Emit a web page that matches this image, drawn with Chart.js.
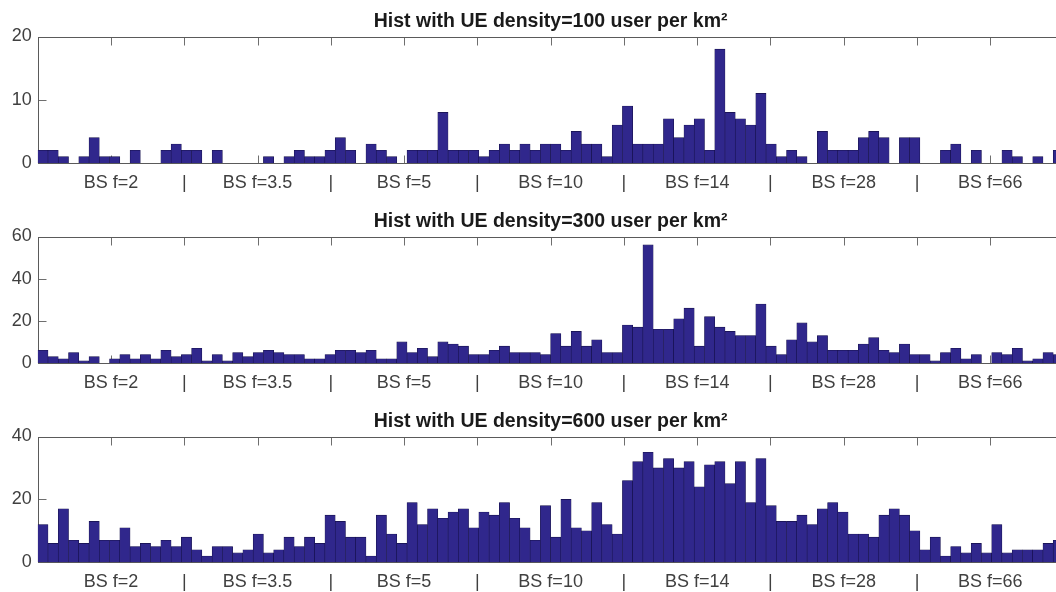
<!DOCTYPE html>
<html>
<head>
<meta charset="utf-8">
<script src="https://cdn.jsdelivr.net/npm/chart.js@4.4.1/dist/chart.umd.min.js"></script>
<style>
  html, body { margin: 0; padding: 0; background: #fff; width: 1056px; height: 592px; overflow: hidden; }
  .panel { position: absolute; left: 0; width: 1080px; height: 200px; }
</style>
</head>
<body>
<div class="panel" style="top:0"><canvas id="h100" width="1080" height="200"></canvas></div>
<div class="panel" style="top:200px"><canvas id="h300" width="1080" height="200"></canvas></div>
<div class="panel" style="top:400px"><canvas id="h600" width="1080" height="200"></canvas></div>
<script>
// datos: 100 bins por histograma
const densities = [100, 300, 600];
const xTickLabels = ['', 'BS f=2', '|', 'BS f=3.5', '|', 'BS f=5', '|', 'BS f=10', '|', 'BS f=14', '|', 'BS f=28', '|', 'BS f=66', ''];
const yMax  = [20, 60, 40];
const yStep = [10, 20, 20];

const counts100 = [
  2, 2, 1, 0, 1, 4, 1, 1, 0, 2,
  0, 0, 2, 3, 2, 2, 0, 2, 0, 0,
  0, 0, 1, 0, 1, 2, 1, 1, 2, 4,
  2, 0, 3, 2, 1, 0, 2, 2, 2, 8,
  2, 2, 2, 1, 2, 3, 2, 3, 2, 3,
  3, 2, 5, 3, 3, 1, 6, 9, 3, 3,
  3, 7, 4, 6, 7, 2, 18, 8, 7, 6,
  11, 3, 1, 2, 1, 0, 5, 2, 2, 2,
  4, 5, 4, 0, 4, 4, 0, 0, 2, 3,
  0, 2, 0, 0, 2, 1, 0, 1, 0, 2
];
const counts300 = [
  6, 3, 2, 5, 1, 3, 0, 2, 4, 2,
  4, 2, 6, 3, 4, 7, 1, 4, 1, 5,
  3, 5, 6, 5, 4, 4, 2, 2, 4, 6,
  6, 5, 6, 2, 2, 10, 5, 7, 3, 10,
  9, 8, 4, 4, 6, 8, 5, 5, 5, 4,
  14, 8, 15, 8, 11, 5, 5, 18, 17, 56,
  16, 16, 21, 26, 8, 22, 17, 15, 13, 13,
  28, 8, 4, 11, 19, 10, 13, 6, 6, 6,
  9, 12, 6, 5, 9, 4, 4, 1, 5, 7,
  2, 4, 0, 5, 4, 7, 1, 2, 5, 4
];
const counts600 = [
  12, 6, 17, 7, 6, 13, 7, 7, 11, 5,
  6, 5, 7, 5, 8, 4, 2, 5, 5, 3,
  4, 9, 3, 4, 8, 5, 8, 6, 15, 13,
  8, 8, 2, 15, 9, 6, 19, 12, 17, 14,
  16, 17, 11, 16, 15, 19, 14, 11, 7, 18,
  8, 20, 11, 10, 19, 12, 9, 26, 32, 35,
  30, 33, 30, 32, 24, 31, 32, 25, 32, 19,
  33, 18, 13, 13, 15, 12, 17, 19, 16, 9,
  9, 8, 15, 17, 15, 10, 4, 8, 2, 5,
  3, 6, 3, 12, 3, 4, 4, 4, 6, 7
];
const allCounts = [counts100, counts300, counts600];

(function () {
  const FONT = '"Liberation Sans", Arial, Helvetica, sans-serif';
  const TICK = 8;
  Chart.defaults.font.family = FONT;

  // caja estilo MATLAB con ticks hacia dentro
  const boxTicks = {
    id: 'boxTicks',
    beforeDatasetsDraw(chart) {
      const { ctx, chartArea: a, scales: { x, y } } = chart;
      const L = Math.round(a.left) + 0.5, R = Math.round(a.right) + 0.5;
      const T = Math.round(a.top) + 0.5, B = Math.round(a.bottom) + 0.5;
      ctx.save();
      ctx.lineWidth = 1;
      ctx.strokeStyle = '#6e6e6e';
      ctx.beginPath();
      x.ticks.slice(1, -1).forEach(t => {
        const px = Math.round(x.getPixelForValue(t.value)) + 0.5;
        ctx.moveTo(px, T); ctx.lineTo(px, T + TICK);
        ctx.moveTo(px, B); ctx.lineTo(px, B - TICK);
      });
      y.ticks.slice(1, -1).forEach(t => {
        const py = Math.round(y.getPixelForValue(t.value)) + 0.5;
        ctx.moveTo(L, py); ctx.lineTo(L + TICK, py);
        ctx.moveTo(R, py); ctx.lineTo(R - TICK, py);
      });
      ctx.stroke();
      ctx.strokeStyle = '#5a5a5a';
      ctx.strokeRect(L, T, R - L, B - T);
      ctx.restore();
    }
  };

  function histChart(id, k, bottomPad) {
    const counts = allCounts[k];
    const nb = counts.length;
    new Chart(document.getElementById(id), {
      type: 'bar',
      data: {
        datasets: [{
          data: counts.map((c, i) => ({ x: i + 0.5, y: c })),
          backgroundColor: '#30278c',
          borderColor: '#15104a',
          borderWidth: 0.6,
          barPercentage: 1,
          categoryPercentage: 1
        }]
      },
      options: {
        responsive: false,
        animation: false,
        events: [],
        layout: { padding: { left: 0, right: 16.5, top: 0, bottom: 0 } },
        plugins: {
          legend: { display: false },
          tooltip: { enabled: false },
          title: {
            display: true,
            fullSize: false,
            text: 'Hist with UE density=' + densities[k] + ' user per km²',
            color: '#1a1a1a',
            font: { size: 19.5, weight: 'bold' },
            padding: { top: 9.5, bottom: 3.6 }
          }
        },
        scales: {
          x: {
            type: 'linear',
            min: 0, max: nb,
            offset: false,
            grid: { display: false, drawTicks: false, offset: false },
            border: { display: false },
            afterBuildTicks: s => {
              s.ticks = xTickLabels.map((_, j) => ({ value: j * nb / (xTickLabels.length - 1) }));
            },
            afterFit: s => { s.height = bottomPad; },
            ticks: {
              autoSkip: false, maxRotation: 0, padding: 9,
              color: '#404040', font: { size: 18 },
              callback: (v, i) => xTickLabels[i]
            }
          },
          y: {
            min: 0, max: yMax[k],
            grid: { display: false, drawTicks: false },
            border: { display: false },
            afterFit: s => { s.width = 37.75; },
            ticks: { stepSize: yStep[k], padding: 6, color: '#404040', font: { size: 18 } }
          }
        }
      },
      plugins: [boxTicks]
    });
  }

  histChart('h100', 0, 37);
  histChart('h300', 1, 37);
  histChart('h600', 2, 37.7);
})();
</script>
</body>
</html>
